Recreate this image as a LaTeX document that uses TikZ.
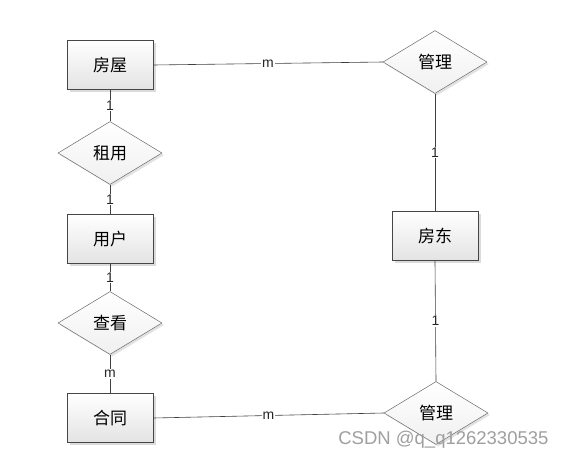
\documentclass[tikz,border=0pt]{standalone}
\usepackage{fontspec}
\setmainfont{Liberation Sans}
\newfontfamily\cjk{Noto Sans CJK SC}
\usetikzlibrary{shapes.geometric,shadows}
\definecolor{edgec}{RGB}{70,70,70}
\tikzset{
  entity/.style={rectangle, draw=edgec, line width=0.7pt, minimum width=86pt, minimum height=49pt,
    top color=white, bottom color=gray!22, inner sep=0pt,
    drop shadow={shadow xshift=2.5pt, shadow yshift=-2.5pt, fill=gray!55},
    font=\cjk\fontsize{17}{20}\selectfont},
  relation/.style={diamond, draw=edgec!80, line width=0.5pt, minimum width=104pt, minimum height=63pt,
    top color=white, bottom color=gray!12, inner sep=0pt,
    drop shadow={shadow xshift=2pt, shadow yshift=-2pt, fill=gray!45},
    font=\cjk\fontsize{17}{20}\selectfont},
  link/.style={draw=black!75, line width=0.6pt},
  card/.style={fill=white, inner sep=1pt, font=\fontsize{14}{16}\selectfont, text=black!85},
}
\begin{document}
\begin{tikzpicture}[x=1pt,y=-1pt]
\useasboundingbox[fill=white] (0,0) rectangle (566,459);
\node[entity] (fangwu) at (110,65) {房屋};
\node[relation] (guanli1) at (435,62) {管理};
\node[entity] (fangdong) at (435,236) {房东};
\node[relation] (guanli2) at (436,413) {管理};
\node[relation] (zuyong) at (110,153) {租用};
\node[entity] (yonghu) at (110,239) {用户};
\node[relation] (chakan) at (110,323) {查看};
\node[entity] (hetong) at (110,418) {合同};

\draw[link] (fangwu.east) -- node[card] {m} (guanli1.west);
\draw[link] (guanli1.south) -- node[card] {1} (fangdong.north);
\draw[link] (fangdong.south) -- node[card] {1} (guanli2.north);
\draw[link] (hetong.east) -- node[card] {m} (guanli2.west);
\draw[link] (fangwu.south) -- node[card] {1} (zuyong.north);
\draw[link] (zuyong.south) -- node[card] {1} (yonghu.north);
\draw[link] (yonghu.south) -- node[card] {1} (chakan.north);
\draw[link] (chakan.south) -- node[card] {m} (hetong.north);

\node[text=gray!75, font=\fontsize{18.5}{22}\selectfont, anchor=east] (wm) at (552,440) {CSDN @q\_q1262330535};
\end{tikzpicture}
\end{document}
